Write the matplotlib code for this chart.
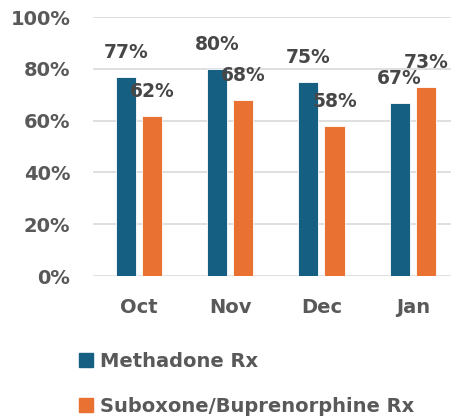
import numpy as np
import matplotlib.pyplot as plt
from matplotlib.patches import Patch

months = ['Oct', 'Nov', 'Dec', 'Jan']
methadone = [0.77, 0.80, 0.75, 0.67]
suboxone = [0.62, 0.68, 0.58, 0.73]
series_names = ['Methadone Rx', 'Suboxone/Buprenorphine Rx']
colors = ['#156082', '#E97132']
text_color = '#595959'

plt.rcParams['font.family'] = ['DejaVu Sans']

fig = plt.figure(figsize=(4.52, 4.17), dpi=100)
ax = fig.add_axes([0.206, 0.338, 0.794, 0.621])

x = np.arange(len(months))
w = 0.22
off = 0.143
b1 = ax.bar(x - off, methadone, w, color=colors[0], edgecolor='white', linewidth=0.6, zorder=3)
b2 = ax.bar(x + off, suboxone, w, color=colors[1], edgecolor='white', linewidth=0.6, zorder=3)

# etiquetas de valores
for bars, vals in [(b1, methadone), (b2, suboxone)]:
    for rect, v in zip(bars, vals):
        ax.annotate(f'{v:.0%}', (rect.get_x() + rect.get_width() / 2, v),
                    xytext=(0, 17.5), textcoords='offset points',
                    ha='center', va='center', fontsize=13.5, fontweight='bold',
                    color='#474747')

ax.set_ylim(0, 1.0)
ax.set_xlim(-0.5, 3.43)
ax.set_yticks(np.arange(0, 1.01, 0.2))
ax.set_yticklabels([f'{t:.0%}' for t in np.arange(0, 1.01, 0.2)])
ax.set_xticks(x)
ax.set_xticklabels(months)
ax.grid(axis='y', color='#d9d9d9', linewidth=1.2, zorder=0)
for s in ax.spines.values():
    s.set_visible(False)
ax.tick_params(length=0, labelsize=14, labelcolor=text_color)
ax.tick_params(axis='x', pad=15.5)
ax.tick_params(axis='y', pad=16.5)
for lab in ax.get_xticklabels() + ax.get_yticklabels():
    lab.set_fontweight('bold')

handles = [Patch(color=c) for c in colors]
fig.legend(handles, series_names, loc='upper left', bbox_to_anchor=(0.175, 0.157),
           frameon=False, borderpad=0, borderaxespad=0,
           handlelength=0.7, handleheight=0.7, handletextpad=0.35,
           labelspacing=1.35, prop={'size': 14, 'weight': 'bold'},
           labelcolor=text_color)

fig.savefig('out.png', dpi=100)
